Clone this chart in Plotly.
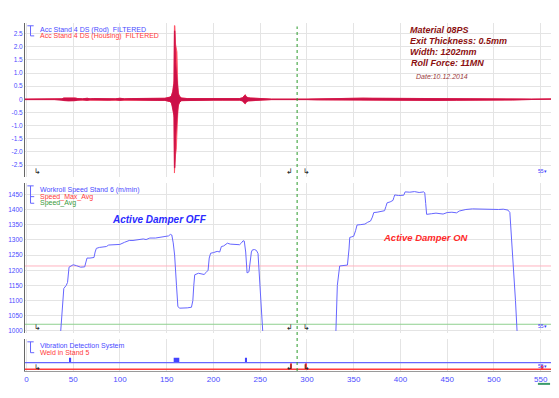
import plotly.graph_objects as go

# ---------------- data ----------------
# Acceleration envelopes (half amplitude)
acc_x = [-1.5, 30, 38, 40, 45, 52, 55, 60, 65, 68,
         72, 80, 88, 95, 100, 105, 112, 120, 130, 140,
         148, 153, 155, 156.5, 157.8, 158.3, 158.8, 159.5, 160.3, 161,
         161.8, 162.5, 164, 166, 172, 180, 190, 200, 210, 220,
         228, 231, 233, 234, 235, 237, 240, 245, 250, 256,
         262, 300, 305, 312, 318, 325, 330, 340, 350, 360,
         370, 380, 400, 420, 440, 460, 480, 500, 510, 520,
         530, 540, 561]
acc_rod = [0.01, 0.01, 0.02, 0.05, 0.06, 0.05, 0.03, 0.02, 0.04, 0.02,
           0.03, 0.02, 0.03, 0.02, 0.04, 0.02, 0.03, 0.03, 0.03, 0.04,
           0.04, 0.08, 0.12, 0.3, 0.6, 2.6, 2.6, 1.4, 1.1, 0.8,
           0.4, 0.2, 0.1, 0.05, 0.03, 0.03, 0.03, 0.03, 0.03, 0.02,
           0.03, 0.06, 0.13, 0.16, 0.1, 0.06, 0.05, 0.04, 0.03, 0.02,
           0.01, 0.01, 0.015, 0.02, 0.03, 0.03, 0.04, 0.04, 0.04, 0.045,
           0.04, 0.04, 0.04, 0.04, 0.04, 0.035, 0.035, 0.04, 0.03, 0.025,
           0.015, 0.01, 0.01]
acc_house = [0.01, 0.01, 0.02, 0.05, 0.06, 0.05, 0.03, 0.02, 0.04, 0.02,
             0.03, 0.02, 0.03, 0.02, 0.04, 0.02, 0.03, 0.03, 0.03, 0.04,
             0.04, 0.08, 0.12, 0.3, 0.7, 2.8, 2.8, 2.1, 1.9, 1.8,
             0.6, 0.25, 0.1, 0.05, 0.03, 0.03, 0.03, 0.03, 0.03, 0.02,
             0.03, 0.06, 0.14, 0.18, 0.11, 0.06, 0.05, 0.04, 0.03, 0.02,
             0.01, 0.01, 0.015, 0.02, 0.03, 0.03, 0.04, 0.04, 0.04, 0.045,
             0.04, 0.04, 0.04, 0.04, 0.04, 0.035, 0.035, 0.04, 0.03, 0.025,
             0.015, 0.01, 0.01]

# Workroll speed, first coil (Active Damper OFF)
speed_x1 = [36.7, 38, 40, 42.6, 44, 45.6, 48, 50, 53.5, 56,
            58, 62.3, 63.5, 64.8, 68, 72.3, 73.5, 74.8, 78, 82,
            85.5, 88, 95, 100, 105, 110, 114, 120, 125, 128,
            132, 138, 142, 148, 152, 154, 155.5, 157, 158.5, 160.5,
            162, 164, 168, 172, 176.5, 178, 179, 180, 184, 187,
            190, 192, 194.3, 195.5, 197, 200, 204, 206.7, 208.5, 211,
            214.9, 218, 222, 226, 228, 230, 231.7, 233, 234.5, 236,
            238, 240.6, 241.7, 244, 246, 247.7, 249, 251, 252.7]
speed_y1 = [1000, 1060, 1140, 1150, 1160, 1210, 1213, 1218, 1215, 1212,
            1210, 1211, 1225, 1240, 1240, 1242, 1260, 1272, 1275, 1276,
            1278, 1283, 1285, 1285, 1292, 1298, 1298, 1300, 1303, 1301,
            1306, 1306, 1308, 1312, 1313, 1318, 1316, 1290, 1250, 1150,
            1080, 1075, 1075, 1076, 1078, 1100, 1150, 1185, 1190, 1188,
            1186, 1192, 1200, 1240, 1256, 1258, 1262, 1260, 1278, 1280,
            1289, 1286, 1285, 1284, 1284, 1290, 1297, 1296, 1260, 1191,
            1195, 1260, 1267, 1268, 1265, 1255, 1180, 1060, 1000]

# Workroll speed, second coil (Active Damper ON)
speed_x2 = [331, 332.5, 335, 338, 341, 343.3, 345, 345.8, 348, 350,
            352, 353.6, 357, 362, 365, 368, 370, 371.5, 375, 380,
            383, 384.5, 385.7, 389, 392, 393, 393.9, 398, 403.5, 405,
            410, 415, 420, 425, 426, 427, 428, 433, 438, 445.6,
            450, 455, 460, 463, 466, 470, 477, 484, 490, 500,
            505, 510, 515, 517, 519, 521, 523, 524.7]
speed_y2 = [1000, 1150, 1214, 1215, 1216, 1217, 1270, 1308, 1310, 1312,
            1330, 1349, 1350, 1352, 1358, 1362, 1375, 1390, 1391, 1393,
            1396, 1410, 1422, 1425, 1430, 1440, 1448, 1446, 1447, 1458,
            1457, 1459, 1456, 1458, 1455, 1420, 1384, 1386, 1388, 1385,
            1390, 1391, 1389, 1395, 1398, 1400, 1402, 1401, 1402, 1400,
            1400, 1401, 1398, 1390, 1300, 1200, 1100, 1000]

speed_max_avg = 1214
speed_avg = 1022

# Vibration detection / weld signals (bottom panel)
vib_x = [-1.5, 561]
vib_level = [1, 1]
vib_pos = [47.2, 160.5, 234.8]
vib_width = [1.2, 6.0, 2.2]
vib_height = [0.75, 0.75, 0.75]
weld_x = [-1.5, 561]
weld_level = [0, 0]
weld_pos = [282.6, 298.6, 551.5]
weld_width = [1.0, 1.0, 2.5]
weld_height = [0.9, 0.9, 0.6]

cursor_x = 289.5
x_ticks = list(range(0, 551, 50))
acc_ticks = [2.5, 2.0, 1.5, 1.0, 0.5, 0, -0.5, -1.0, -1.5, -2.0, -2.5]
acc_ticktext = ["2.5", "2.0", "1.5", "1.0", "0.5", "0", "-0.5", "-1.0", "-1.5", "-2.0", "-2.5"]
speed_ticks = list(range(1000, 1451, 50))

# ---------------- figure ----------------
FONT = "Liberation Sans, Arial, sans-serif"
BLUE_TXT = "#4b4bff"
BLUE_LINE = "#6666ff"
RED_LINE = "#ff3a3a"
GRID = "#e4e4e4"

fig = go.Figure()

def band(xs, env):
    return xs + xs[::-1], env + [-v for v in env[::-1]]

hx, hy = band(acc_x, acc_house)
fig.add_trace(go.Scatter(x=hx, y=hy, xaxis="x", yaxis="y", fill="toself",
                         fillcolor="#ff4a5e", line=dict(color="#ff4a5e", width=0.8),
                         mode="lines", hoverinfo="skip", showlegend=False))
rx, ry = band(acc_x, acc_rod)
fig.add_trace(go.Scatter(x=rx, y=ry, xaxis="x", yaxis="y", fill="toself",
                         fillcolor="#cc1048", line=dict(color="#cc1048", width=0.8),
                         mode="lines", hoverinfo="skip", showlegend=False))

# middle panel
fig.add_trace(go.Scatter(x=[-1.5, 561], y=[speed_max_avg, speed_max_avg], xaxis="x2", yaxis="y2",
                         mode="lines", line=dict(color="#ffb3c0", width=1), showlegend=False))
fig.add_trace(go.Scatter(x=[-1.5, 561], y=[speed_avg, speed_avg], xaxis="x2", yaxis="y2",
                         mode="lines", line=dict(color="#8fd08f", width=1), showlegend=False))
fig.add_trace(go.Scatter(x=speed_x1, y=speed_y1, xaxis="x2", yaxis="y2", mode="lines",
                         line=dict(color=BLUE_LINE, width=1), showlegend=False))
fig.add_trace(go.Scatter(x=speed_x2, y=speed_y2, xaxis="x2", yaxis="y2", mode="lines",
                         line=dict(color=BLUE_LINE, width=1), showlegend=False))

# bottom panel
fig.add_trace(go.Scatter(x=vib_x, y=vib_level, xaxis="x3", yaxis="y3", mode="lines",
                         line=dict(color=BLUE_LINE, width=1.2), showlegend=False))
fig.add_trace(go.Bar(x=vib_pos, y=vib_height, base=1, width=vib_width, xaxis="x3", yaxis="y3",
                     marker=dict(color="#4444ff", line=dict(width=0)), showlegend=False))
fig.add_trace(go.Scatter(x=weld_x, y=weld_level, xaxis="x3", yaxis="y3", mode="lines",
                         line=dict(color=RED_LINE, width=1.5), showlegend=False))
fig.add_trace(go.Bar(x=weld_pos, y=weld_height, base=0, width=weld_width, xaxis="x3", yaxis="y3",
                     marker=dict(color=RED_LINE, line=dict(width=0)), showlegend=False))

xcommon = dict(range=[-1.5, 561], showgrid=True, gridcolor=GRID, gridwidth=1,
               tickvals=x_ticks, zeroline=False, ticks="", automargin=False)
ycommon = dict(showgrid=True, gridcolor=GRID, zeroline=False, showline=True, linecolor="#666",
               ticks="", ticklen=0, automargin=False,
               tickfont=dict(size=6.5, color=BLUE_TXT, family=FONT))
# the page body adds an 8 px offset, margins compensate for it
fig.update_layout(
    width=559, height=398,
    margin=dict(l=17, r=16, t=15, b=35, autoexpand=False),
    paper_bgcolor="white", plot_bgcolor="white",
    font=dict(family=FONT, size=7, color=BLUE_TXT),
    showlegend=False, barmode="overlay",
    xaxis=dict(**xcommon, anchor="y", showticklabels=False, matches="x3"),
    xaxis2=dict(**xcommon, anchor="y2", showticklabels=False, matches="x3"),
    xaxis3=dict(**xcommon, anchor="y3", showticklabels=True, showline=True, linecolor="#9a9a9a",
                tickfont=dict(size=8, color=BLUE_TXT, family=FONT)),
    yaxis=dict(**ycommon, domain=[0.5575, 1.0], range=[-2.95, 2.9], tickvals=acc_ticks,
               ticktext=acc_ticktext),
    yaxis2=dict(**ycommon, domain=[0.109, 0.540], range=[993, 1487], tickvals=speed_ticks),
    yaxis3=dict(domain=[0.0, 0.092], range=[-0.26, 4.6], showgrid=False, zeroline=False,
                showticklabels=False, showline=True, linecolor="#666", ticks="", automargin=False),
)

# cursor line
fig.add_shape(type="line", xref="x3", yref="paper", x0=cursor_x, x1=cursor_x, y0=0.0, y1=0.99,
              line=dict(color="#2a9a2a", width=1, dash="dot"))
# small green mark under the axis end
fig.add_shape(type="line", xref="x3", yref="paper", x0=547, x1=560, y0=-0.037, y1=-0.037,
              line=dict(color="#3a9a6a", width=2))

ann = []
def txt(x, y, s, color, size=7, xanchor="left", bold=False, italic=False, xref="paper"):
    t = s
    if bold:
        t = "<b>" + t + "</b>"
    if italic:
        t = "<i>" + t + "</i>"
    ann.append(dict(x=x, y=y, xref=xref, yref="paper", text=t, showarrow=False,
                    xanchor=xanchor, yanchor="middle",
                    font=dict(size=size, color=color, family=FONT)))

def legend(rows, ys):
    for (s, c), y in zip(rows, ys):
        txt(0.0247, y, s, c)
    x0 = 0.0105
    fig.add_shape(type="line", xref="paper", yref="paper", x0=x0, x1=x0, y0=ys[-1], y1=ys[0] + 0.012,
                  line=dict(color=BLUE_LINE, width=1))
    fig.add_shape(type="line", xref="paper", yref="paper", x0=x0 - 0.006, x1=x0 + 0.006,
                  y0=ys[0] + 0.012, y1=ys[0] + 0.012, line=dict(color=BLUE_LINE, width=1))
    for y in ys[1:]:
        fig.add_shape(type="line", xref="paper", yref="paper", x0=x0, x1=x0 + 0.007, y0=y, y1=y,
                      line=dict(color=BLUE_LINE, width=1))

legend([("Acc Stand 4 DS (Rod)  FILTERED", "#4b4bff"),
        ("Acc Stand 4 DS (Housing)  FILTERED", "#ff3a3a")], [0.980, 0.963])
legend([("Workroll Speed Stand 6 (m/min)", "#4b4bff"),
        ("Speed_Max_Avg", "#ff3a3a"),
        ("Speed_Avg", "#3a9a3a")], [0.520, 0.501, 0.482])
legend([("Vibration Detection System", "#4b4bff"),
        ("Weld in Stand 5", "#ff3a3a")], [0.0718, 0.0526])

DR = "#8b1010"
txt(0.728, 0.980, "Material 08PS", DR, size=9, bold=True, italic=True)
txt(0.728, 0.948, "Exit Thickness: 0.5mm", DR, size=9, bold=True, italic=True)
txt(0.728, 0.917, "Width: 1202mm", DR, size=9, bold=True, italic=True)
txt(0.730, 0.885, "Roll Force: 11MN", DR, size=9, bold=True, italic=True)
txt(0.740, 0.845, "Date:10.12.2014", "#9a3a3a", size=7, italic=True)

txt(0.2548, 0.434, "Active Damper OFF", "#2a2aff", size=10, xanchor="center", bold=True, italic=True)
txt(0.7618, 0.385, "Active Damper ON", "#ff2a2a", size=9.5, xanchor="center", bold=True, italic=True)

# cursor glyphs at bottom of each panel
for py in (0.572, 0.124, 0.010):
    txt(11.5, py, "↳", "#222", size=8, xanchor="center", xref="x3")
    txt(281.5, py, "↲", "#222", size=8, xanchor="center", xref="x3")
    txt(299.5, py, "↳", "#222", size=8, xanchor="center", xref="x3")
    txt(551.5, py + 0.004, "55▾", "#3a3aff", size=5, xanchor="center", xref="x3")

fig.update_layout(annotations=ann)
fig.write_html("out.html")
